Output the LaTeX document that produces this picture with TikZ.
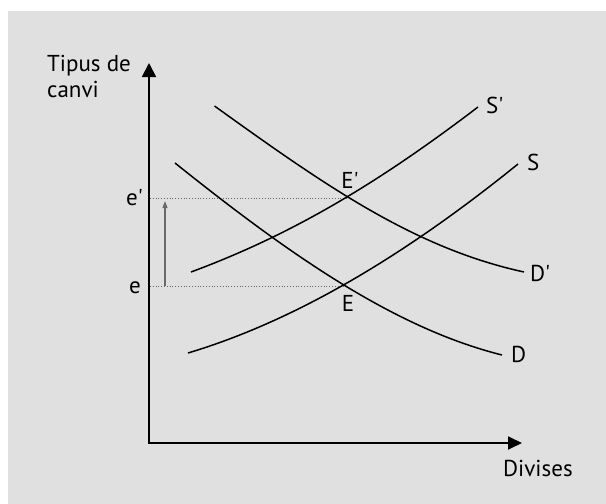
\documentclass[tikz,border=0pt]{standalone}
\usepackage{fontspec}
\setmainfont{PT Sans}
\usetikzlibrary{arrows.meta}
\definecolor{bggray}{RGB}{224,224,224}
\definecolor{guide}{RGB}{105,105,105}
\newcommand{\pq}{\textquotesingle}
\begin{document}
\begin{tikzpicture}[x=1pt,y=-1pt,
  curve/.style={line width=1.5pt, black},
  axis/.style={line width=1.8pt, line join=miter,
    {Triangle[length=14pt,width=14pt]}-{Triangle[length=14pt,width=13pt]}},
  guideline/.style={dotted, line width=0.8pt, guide},
  shiftarrow/.style={line width=1.2pt, guide, -{Triangle[length=7pt,width=5pt]}},
  lbl/.style={font=\fontsize{23}{26}\selectfont, inner sep=0pt}]
\useasboundingbox (0,0) rectangle (606,504);
\fill[white] (0,0) rectangle (606,504);
\fill[bggray] (8,11) rectangle (606,504);

% axes
\coordinate (O) at (149,443);
\coordinate (ytop) at (149,63);
\coordinate (xend) at (522,443);
\draw[axis] (ytop) -- (O) -- (xend);

% guide levels
\coordinate (ep) at (150,198);
\coordinate (Ep) at (347,198);
\coordinate (e0) at (150,286);
\coordinate (E0) at (347,286);
\draw[guideline] (ep) -- (Ep);
\draw[guideline] (e0) -- (E0);

% shift arrow
\coordinate (a0) at (165,286);
\coordinate (a1) at (165,201);
\draw[shiftarrow] (a0) -- (a1);

% curve endpoints
\coordinate (Ds) at (175,163);
\coordinate (De) at (502,355);
\coordinate (Dps) at (214.5,106);
\coordinate (Dpe) at (524,272);
\coordinate (Ss) at (188,353);
\coordinate (Se) at (518,164);
\coordinate (Sps) at (191,272);
\coordinate (Spe) at (478,107);

\draw[curve] (Ds) .. controls (285,251) and (392,327.5) .. (De);
\draw[curve] (Dps) .. controls (324.5,185) and (413.8,248) .. (Dpe);
\draw[curve] (Ss) .. controls (298,320) and (408,253) .. (Se);
\draw[curve] (Sps) .. controls (291,235) and (377,184) .. (Spe);

% labels
\node[lbl, anchor=base west] (ylab1) at (47,71) {Tipus de};
\node[lbl, anchor=base west] (ylab2) at (47,97) {canvi};
\node[lbl, anchor=base west] (xlab) at (503,476) {Divises};
\node[lbl, anchor=base east] (lep) at (143,205) {e\pq};
\node[lbl, anchor=base east] (le) at (141,293) {e};
\node[lbl, anchor=base] (lEp) at (350,188) {E\pq};
\node[lbl, anchor=base] (lE) at (348,311) {E};
\node[lbl, anchor=base west] (lSp) at (486,113) {S\pq};
\node[lbl, anchor=base west] (lS) at (527,170) {S};
\node[lbl, anchor=base west] (lDp) at (530,281.5) {D\pq};
\node[lbl, anchor=base west] (lD) at (511,362.5) {D};
\end{tikzpicture}
\end{document}
